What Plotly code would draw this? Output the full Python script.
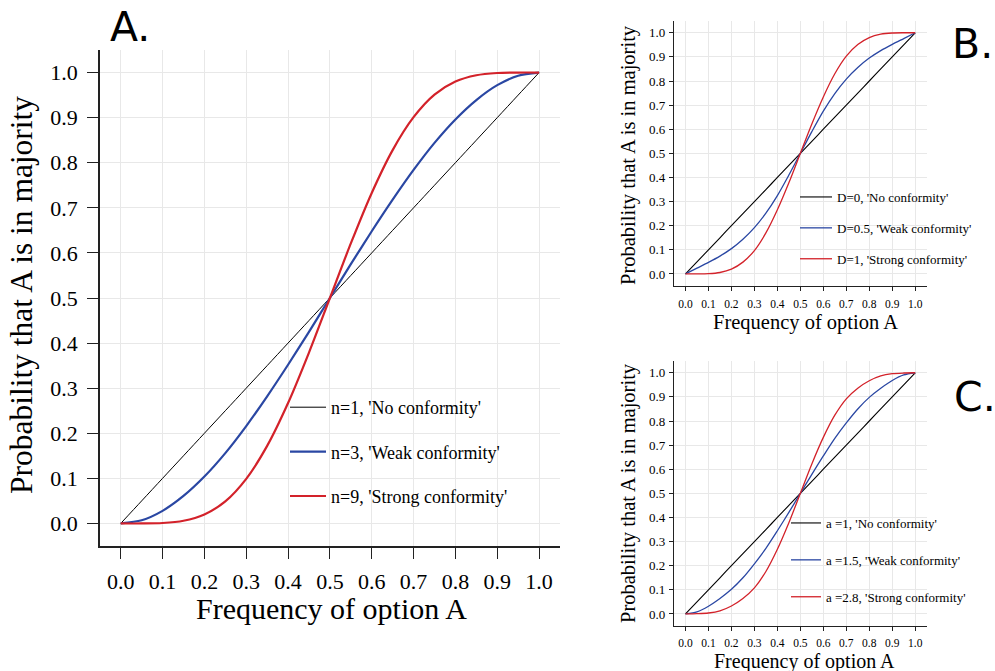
import plotly.graph_objects as go

# ---------------- data ----------------
freq = [0.0, 0.05, 0.1, 0.15, 0.2, 0.25, 0.3, 0.35, 0.4, 0.45, 0.5,
        0.55, 0.6, 0.65, 0.7, 0.75, 0.8, 0.85, 0.9, 0.95, 1.0]

# Panel A
a_n1 = [0.0, 0.05, 0.1, 0.15, 0.2, 0.25, 0.3, 0.35, 0.4, 0.45, 0.5,
        0.55, 0.6, 0.65, 0.7, 0.75, 0.8, 0.85, 0.9, 0.95, 1.0]
a_n3 = [0.0, 0.007, 0.028, 0.061, 0.104, 0.156, 0.216, 0.282, 0.352, 0.425, 0.5,
        0.575, 0.648, 0.718, 0.784, 0.844, 0.896, 0.939, 0.972, 0.993, 1.0]
a_n9 = [0.0, 0.0, 0.001, 0.006, 0.020, 0.049, 0.099, 0.172, 0.267, 0.379, 0.5,
        0.621, 0.733, 0.828, 0.901, 0.951, 0.980, 0.994, 0.999, 1.0, 1.0]

# Panel B
b_d0 = [0.0, 0.05, 0.1, 0.15, 0.2, 0.25, 0.3, 0.35, 0.4, 0.45, 0.5,
        0.55, 0.6, 0.65, 0.7, 0.75, 0.8, 0.85, 0.9, 0.95, 1.0]
b_d05 = [0.0, 0.024, 0.048, 0.074, 0.105, 0.144, 0.192, 0.252, 0.325, 0.410, 0.5,
         0.590, 0.675, 0.748, 0.808, 0.856, 0.895, 0.926, 0.952, 0.976, 1.0]
b_d1 = [0.0, 0.0, 0.001, 0.006, 0.020, 0.049, 0.097, 0.170, 0.266, 0.378, 0.5,
        0.622, 0.734, 0.830, 0.903, 0.951, 0.980, 0.994, 0.999, 1.0, 1.0]

# Panel C
c_a1 = [0.0, 0.05, 0.1, 0.15, 0.2, 0.25, 0.3, 0.35, 0.4, 0.45, 0.5,
        0.55, 0.6, 0.65, 0.7, 0.75, 0.8, 0.85, 0.9, 0.95, 1.0]
c_a15 = [0.0, 0.009, 0.032, 0.064, 0.102, 0.150, 0.208, 0.272, 0.345, 0.421, 0.5,
         0.579, 0.655, 0.728, 0.792, 0.850, 0.898, 0.936, 0.968, 0.991, 1.0]
c_a28 = [0.0, 0.001, 0.004, 0.013, 0.033, 0.064, 0.108, 0.176, 0.268, 0.378, 0.5,
         0.622, 0.732, 0.824, 0.892, 0.936, 0.967, 0.987, 0.996, 0.999, 1.0]

names_a = ["n=1, 'No conformity'", "n=3, 'Weak conformity'", "n=9, 'Strong conformity'"]
names_b = ["D=0, 'No conformity'", "D=0.5, 'Weak conformity'", "D=1, 'Strong conformity'"]
names_c = ["a =1, 'No conformity'", "a =1.5, 'Weak conformity'", "a =2.8, 'Strong conformity'"]

tick_vals = [0.0, 0.1, 0.2, 0.3, 0.4, 0.5, 0.6, 0.7, 0.8, 0.9, 1.0]
tick_text = ["0.0", "0.1", "0.2", "0.3", "0.4", "0.5", "0.6", "0.7", "0.8", "0.9", "1.0"]

x_title = "Frequency of option A"
y_title = "Probability that A is in majority"
panel_labels = ["A.", "B.", "C."]

# ---------------- style ----------------
W, H = 995, 671
BLACK = "#000000"
BLUE = "#2A47A3"
RED = "#D3222A"
GRID = "#E8E8E8"
SERIF = "Liberation Serif, Times New Roman, serif"
SANS = "DejaVu Sans, sans-serif"
colors = [BLACK, BLUE, RED]


def px_x(p):
    return p / W


def px_y(p):
    return 1 - p / H


fig = go.Figure()

panels = [
    ("x", "y", "legend", [a_n1, a_n3, a_n9], names_a, [1.0, 2.2, 2.2]),
    ("x2", "y2", "legend2", [b_d0, b_d05, b_d1], names_b, [1.1, 1.3, 1.3]),
    ("x3", "y3", "legend3", [c_a1, c_a15, c_a28], names_c, [1.1, 1.3, 1.3]),
]

for xa, ya, leg, series, names, widths in panels:
    for i, (ys, nm) in enumerate(zip(series, names)):
        fig.add_trace(go.Scatter(
            x=freq, y=ys, name=nm, mode="lines",
            line=dict(color=colors[i], width=widths[i], shape="spline", smoothing=0.8),
            xaxis=xa, yaxis=ya, legend=leg, legendgroup=f"{leg}_{i}",
            showlegend=True,
        ))


def axis_style(big):
    return dict(
        range=[-0.05, 1.05], tickvals=tick_vals, ticktext=tick_text,
        showgrid=True, gridcolor=GRID, gridwidth=1.3 if big else 1,
        zeroline=False, showline=True, linecolor="#222222",
        linewidth=1.5 if big else 1.1, mirror=False,
        ticks="outside", ticklen=11 if big else 4, tickwidth=1.4 if big else 1,
        tickcolor="#222222",
        tickfont=dict(family=SERIF, size=22 if big else 11.5, color="black"),
        fixedrange=True,
    )


domA_x = [99.8 / W, 560 / W]
domA_y = [px_y(546), px_y(50)]
domB_x = [674 / W, 926.7 / W]
domB_y = [px_y(286), px_y(20.7)]
domC_y = [px_y(626), px_y(360.7)]

xa1 = axis_style(True); xa1.update(domain=domA_x, anchor="y", ticklabelstandoff=4)
ya1 = axis_style(True); ya1.update(domain=domA_y, anchor="x", ticklabelstandoff=5)
xa2 = axis_style(False); xa2.update(domain=domB_x, anchor="y2", ticklabelstandoff=3)
ya2 = axis_style(False); ya2.update(domain=domB_y, anchor="x2", ticklabelstandoff=1,
                                    tickfont=dict(family=SERIF, size=13, color="black"))
xa3 = axis_style(False); xa3.update(domain=domB_x, anchor="y3", ticklabelstandoff=2)
ya3 = axis_style(False); ya3.update(domain=domC_y, anchor="x3", ticklabelstandoff=1,
                                    tickfont=dict(family=SERIF, size=13, color="black"))


def legend_style(x_px, y_px, size, gap, itemwidth):
    return dict(
        x=px_x(x_px), y=px_y(y_px), xanchor="left", yanchor="top",
        bgcolor="rgba(0,0,0,0)", borderwidth=0,
        font=dict(family=SERIF, size=size, color="black"),
        tracegroupgap=gap, itemwidth=itemwidth, traceorder="grouped",
        itemclick=False, itemdoubleclick=False,
    )


annotations = []
# axis titles
titles = [
    (331, 608, 30, x_title, 0),
    (21, 295, 31.5, y_title, -90),
    (805.5, 322, 20.5, x_title, 0),
    (628, 155, 20.5, y_title, -90),
    (804, 661, 20, x_title, 0),
    (628, 493, 20.5, y_title, -90),
]
for xp, yp, sz, txt, ang in titles:
    annotations.append(dict(
        x=px_x(xp), y=px_y(yp), xref="paper", yref="paper", text=txt,
        showarrow=False, textangle=ang, xanchor="center", yanchor="middle",
        font=dict(family=SERIF, size=sz, color="black"),
    ))
# panel labels
for lab, xp, yp in zip(panel_labels, [108, 950, 952], [27, 44, 397]):
    annotations.append(dict(
        x=px_x(xp), y=px_y(yp), xref="paper", yref="paper", text=lab,
        showarrow=False, xanchor="left", yanchor="middle",
        font=dict(family=SANS, size=41, color="black"),
    ))

fig.update_layout(
    width=W, height=H, autosize=False,
    margin=dict(l=0, r=0, t=0, b=0, pad=0),
    paper_bgcolor="white", plot_bgcolor="white",
    xaxis=xa1, yaxis=ya1, xaxis2=xa2, yaxis2=ya2, xaxis3=xa3, yaxis3=ya3,
    legend=legend_style(285, 389, 18, 18, 36),
    legend2=legend_style(795, 182, 13, 11, 32),
    legend3=legend_style(786, 508, 13, 17, 30),
    annotations=annotations,
    showlegend=True,
)

fig.write_html("out.html", config={"displayModeBar": False})
